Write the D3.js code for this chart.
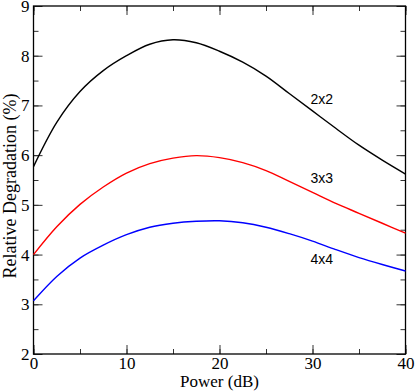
<!DOCTYPE html>
<html>
  <head>
    <meta charset="utf-8" />
    <script src="https://d3js.org/d3.v7.min.js"></script>
    <style>
      body { margin: 0; background: #fff; }
    </style>
  </head>
  <body>
    <svg id="chart" width="415" height="391"></svg>
    <script>
      // Valores
      const power = [0, 2.5, 5, 7.5, 10, 12.5, 15, 17.5, 20, 22.5, 25, 27.5, 30, 32.5, 35, 37.5, 40];
      const deg2x2 = [5.77, 6.66, 7.28, 7.70, 8.00, 8.23, 8.32, 8.26, 8.09, 7.87, 7.59, 7.24, 6.89, 6.54, 6.20, 5.90, 5.62];
      const deg3x3 = [4.00, 4.56, 5.01, 5.36, 5.64, 5.83, 5.94, 5.99, 5.95, 5.85, 5.69, 5.47, 5.25, 5.03, 4.83, 4.63, 4.43];
      const deg4x4 = [3.07, 3.56, 3.93, 4.19, 4.40, 4.55, 4.63, 4.67, 4.68, 4.64, 4.55, 4.42, 4.27, 4.10, 3.94, 3.80, 3.67];
      const seriesNames = ["2x2", "3x3", "4x4"];
      const xTicks = [0, 10, 20, 30, 40];
      const yTicks = [2, 3, 4, 5, 6, 7, 8, 9];

      const series = [
        { name: seriesNames[0], values: deg2x2, color: "#000000", lx: 31, ly: 7.03 },
        { name: seriesNames[1], values: deg3x3, color: "#ff0000", lx: 31, ly: 5.44 },
        { name: seriesNames[2], values: deg4x4, color: "#0000ff", lx: 31, ly: 3.81 },
      ];

      const x0 = 33.5, x1 = 405.5, y0 = 6, y1 = 354;
      const svg = d3.select("#chart");

      const x = d3.scaleLinear().domain([0, 40]).range([x0, x1]);
      const y = d3.scaleLinear().domain([2, 9]).range([y1, y0]);

      const serif = "'Liberation Serif', 'Times New Roman', serif";
      const sans = "'Liberation Sans', Arial, sans-serif";

      // Ejes con marcas hacia dentro en los cuatro lados
      const minorX = d3.range(0, 40.01, 5);
      const minorY = d3.range(2, 9.01, 0.5);

      function tickGroup(axis, transform) {
        const g = svg.append("g").attr("transform", transform).call(axis);
        g.select(".domain").remove();
        g.selectAll("line").attr("stroke", "#333").attr("stroke-width", 1);
        return g;
      }

      // Menores
      tickGroup(d3.axisBottom(x).tickValues(minorX).tickSize(-5).tickFormat(""), `translate(0,${y1})`);
      tickGroup(d3.axisTop(x).tickValues(minorX).tickSize(-5).tickFormat(""), `translate(0,${y0})`);
      tickGroup(d3.axisLeft(y).tickValues(minorY).tickSize(-5).tickFormat(""), `translate(${x0},0)`);
      tickGroup(d3.axisRight(y).tickValues(minorY).tickSize(-5).tickFormat(""), `translate(${x1},0)`);

      // Mayores
      tickGroup(d3.axisBottom(x).tickValues(xTicks).tickSize(-9).tickPadding(3).tickFormat(d3.format("d")), `translate(0,${y1})`);
      tickGroup(d3.axisTop(x).tickValues(xTicks).tickSize(-9).tickFormat(""), `translate(0,${y0})`);
      tickGroup(d3.axisLeft(y).tickValues(yTicks).tickSize(-9).tickPadding(4).tickFormat(d3.format("d")), `translate(${x0},0)`);
      tickGroup(d3.axisRight(y).tickValues(yTicks).tickSize(-9).tickFormat(""), `translate(${x1},0)`);

      svg.selectAll("g text")
        .style("font-family", serif)
        .style("font-size", "17px")
        .attr("fill", "#000");

      // Marco
      svg.append("rect")
        .attr("x", x0).attr("y", y0)
        .attr("width", x1 - x0).attr("height", y1 - y0)
        .attr("fill", "none").attr("stroke", "#000").attr("stroke-width", 1.3);

      // Curvas
      const line = d3.line()
        .x((d, i) => x(power[i]))
        .y((d) => y(d))
        .curve(d3.curveCatmullRom.alpha(0.5));

      svg.selectAll(".serie")
        .data(series)
        .enter()
        .append("path")
        .attr("class", "serie")
        .attr("d", (d) => line(d.values))
        .attr("fill", "none")
        .attr("stroke", (d) => d.color)
        .attr("stroke-width", 1.4);

      svg.selectAll(".etiqueta")
        .data(series)
        .enter()
        .append("text")
        .attr("class", "etiqueta")
        .attr("x", (d) => x(d.lx))
        .attr("y", (d) => y(d.ly))
        .attr("text-anchor", "middle")
        .style("font-family", sans)
        .style("font-size", "14px")
        .text((d) => d.name);

      // Títulos de ejes
      svg.append("text")
        .attr("x", (x0 + x1) / 2)
        .attr("y", 387)
        .attr("text-anchor", "middle")
        .style("font-family", serif)
        .style("font-size", "17px")
        .text("Power (dB)");

      svg.append("text")
        .attr("transform", `translate(16,186) rotate(-90)`)
        .attr("text-anchor", "middle")
        .style("font-family", serif)
        .style("font-size", "18px")
        .text("Relative Degradation (%)");
    </script>
  </body>
</html>
